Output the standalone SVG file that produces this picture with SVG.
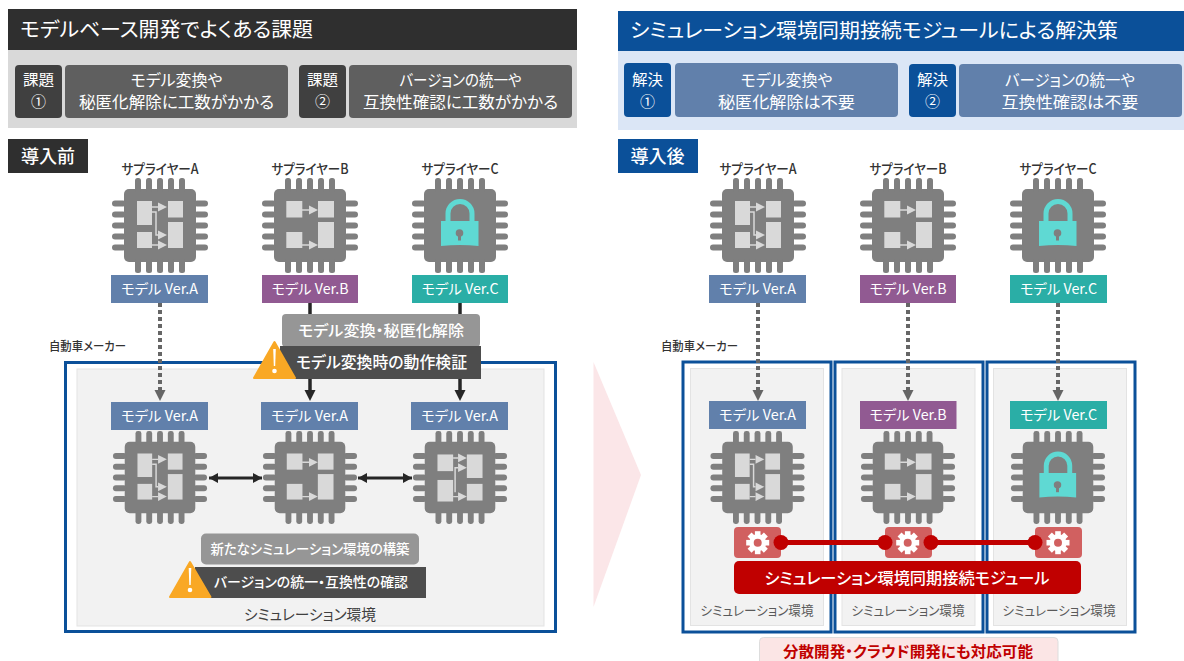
<svg xmlns="http://www.w3.org/2000/svg" width="1184" height="661" viewBox="0 0 1184 661">
<style>
text{font-family:"Noto Sans CJK JP","Noto Sans",sans-serif;text-anchor:middle;dominant-baseline:central;font-feature-settings:"palt";transform:translateY(-1.5px)}
.w{fill:#fff}.d{fill:#333}.m{font-weight:500}
.chip{fill:#7f7f7f}.in{fill:#d9d9d9}.ln{stroke:#d9d9d9;stroke-width:1.5;fill:none}
.blue{fill:#6180ab}.pur{fill:#915a92}.teal{fill:#2aaea6}
.frame{fill:#fff;stroke:#0b5099;stroke-width:3}.sim{fill:#f2f2f2;stroke:#e3e3e3;stroke-width:1}
.dot{stroke:#666;stroke-width:4;stroke-dasharray:4 3;fill:none}
.sol{stroke:#262626;stroke-width:3.5;fill:none}
.dbl{stroke:#262626;stroke-width:3;fill:none}
.warn{fill:#f9a825;stroke:#f9a825;stroke-width:2;stroke-linejoin:round}
.gearbox{fill:#d16060}
.redl{stroke:#c00000;stroke-width:5;fill:none}
</style>
<defs>
<marker id="ha" markerUnits="userSpaceOnUse" markerWidth="10" markerHeight="12" refX="9" refY="6" orient="auto-start-reverse"><path d="M0 1L9 6L0 11Z" fill="#262626"/></marker>
<g id="base">
<rect class="chip" x="-36" y="-36.5" width="72" height="73" rx="5"/>
<g class="chip">
<rect x="-25" y="-47.5" width="6" height="14" rx="2.5"/><rect x="-14" y="-47.5" width="6" height="14" rx="2.5"/><rect x="-3" y="-47.5" width="6" height="14" rx="2.5"/><rect x="8" y="-47.5" width="6" height="14" rx="2.5"/><rect x="19" y="-47.5" width="6" height="14" rx="2.5"/>
<rect x="-25" y="33.5" width="6" height="14" rx="2.5"/><rect x="-14" y="33.5" width="6" height="14" rx="2.5"/><rect x="-3" y="33.5" width="6" height="14" rx="2.5"/><rect x="8" y="33.5" width="6" height="14" rx="2.5"/><rect x="19" y="33.5" width="6" height="14" rx="2.5"/>
<rect x="-48" y="-25" width="14" height="6" rx="3"/><rect x="-48" y="-14" width="14" height="6" rx="3"/><rect x="-48" y="-3" width="14" height="6" rx="3"/><rect x="-48" y="8" width="14" height="6" rx="3"/><rect x="-48" y="19" width="14" height="6" rx="3"/>
<rect x="34" y="-25" width="14" height="6" rx="3"/><rect x="34" y="-14" width="14" height="6" rx="3"/><rect x="34" y="-3" width="14" height="6" rx="3"/><rect x="34" y="8" width="14" height="6" rx="3"/><rect x="34" y="19" width="14" height="6" rx="3"/>
</g>
</g>
<g id="chipA"><use href="#base"/>
<g class="in"><rect x="-23" y="-24.5" width="15" height="24"/><rect x="-23" y="6.5" width="15" height="16"/><rect x="8" y="-24.5" width="15" height="16.5"/><rect x="8" y="-3.5" width="15" height="26"/>
<path d="M-2 -23L7 -18.5L-2 -14Z"/><path d="M-2 5L7 9.5L-2 14Z"/><path d="M-2 15L7 19.5L-2 24Z"/></g>
<path class="ln" d="M-8 -18.5H-2M-8 -13.5H-4V9.5H-2M-8 19.5H-2"/></g>
<g id="chipB"><use href="#base"/>
<g class="in"><rect x="-23.7" y="-24.5" width="16" height="16.5"/><rect x="-23.7" y="6.5" width="16" height="16"/><rect x="8" y="-24.5" width="16" height="16.5"/><rect x="8" y="-3.5" width="16" height="26"/>
<path d="M-1 -20L8 -15.5L-1 -11Z"/><path d="M-1 15L8 19.5L-1 24Z"/></g>
<path class="ln" d="M-8 -15.5H-1M-8 19.5H-1"/></g>
<g id="chipD"><use href="#base"/>
<g class="in"><rect x="-23" y="-23.5" width="16" height="17"/><rect x="-23" y="2.5" width="16" height="22"/><rect x="7" y="-23.5" width="16" height="24"/><rect x="7" y="6.5" width="16" height="17"/>
<path d="M-2 -24.5L7 -20L-2 -15.5Z"/><path d="M-2 -14.5L7 -10L-2 -5.5Z"/><path d="M-2 15L7 19.5L-2 24Z"/></g>
<path class="ln" d="M-7 -20H-2M-2 -10H-5V15M-7 19.5H-2"/></g>
<g id="chipL"><use href="#base"/>
<path d="M-12 -4V-12a12 12 0 0 1 24 0V-4" fill="none" stroke="#5fd9d3" stroke-width="5"/>
<path d="M-19 -4.5H18.500V20.500Q0 18.500 -19 20.500Z" fill="#5fd9d3"/>
<circle cx="-0.5" cy="7.5" r="3.8" fill="#7f7f7f"/><rect x="-2" y="8" width="3" height="7" fill="#7f7f7f"/></g>
<g id="gear"><circle r="8.5" fill="#fff"/>
<g fill="#fff"><rect x="-2.8" y="-11.5" width="5.6" height="23"/><rect x="-2.8" y="-11.5" width="5.6" height="23" transform="rotate(45)"/><rect x="-2.8" y="-11.5" width="5.6" height="23" transform="rotate(90)"/><rect x="-2.8" y="-11.5" width="5.6" height="23" transform="rotate(135)"/></g>
<circle r="4" fill="#d16060"/></g>
<g id="ex"><path d="M-1.300 -20H1.300L0.700 -3H-0.700Z" fill="#fff"/><circle cy="2" r="2.300" fill="#fff"/></g>
</defs>
<rect width="1184" height="661" fill="#fff"/>

<g id="left-header">
<rect x="8" y="50" width="569" height="78" fill="#d9d9d9"/>
<rect x="8" y="9" width="569" height="41" fill="#2f2f2f"/>
<text class="w" x="166.500" y="30" font-size="20" textLength="293" lengthAdjust="spacingAndGlyphs">モデルベース開発でよくある課題</text>
</g>
<g id="issue1">
<rect x="15" y="65" width="47" height="53" rx="4" fill="#404040"/>
<text class="w" x="38.500" y="79.500" font-size="15" textLength="31" lengthAdjust="spacingAndGlyphs">課題</text><text class="w" x="38.500" y="101.500" font-size="15">①</text>
<rect x="65" y="65" width="223" height="53" rx="4" fill="#5f5f5f"/>
<text class="w" x="176.500" y="80" font-size="16" textLength="92" lengthAdjust="spacingAndGlyphs">モデル変換や</text>
<text class="w" x="176.500" y="102" font-size="16" textLength="195" lengthAdjust="spacingAndGlyphs">秘匿化解除に工数がかかる</text>
</g>
<g id="issue2">
<rect x="299" y="65" width="47" height="53" rx="4" fill="#404040"/>
<text class="w" x="322.500" y="79.500" font-size="15" textLength="31" lengthAdjust="spacingAndGlyphs">課題</text><text class="w" x="322.500" y="101.500" font-size="15">②</text>
<rect x="349" y="65" width="223" height="53" rx="4" fill="#5f5f5f"/>
<text class="w" x="460.500" y="80" font-size="16" textLength="122" lengthAdjust="spacingAndGlyphs">バージョンの統一や</text>
<text class="w" x="460.500" y="102" font-size="16" textLength="195" lengthAdjust="spacingAndGlyphs">互換性確認に工数がかかる</text>
</g>
<g id="before-tag"><rect x="8" y="139" width="80" height="34" fill="#2f2f2f"/><text class="w m" x="48" y="156" font-size="18">導入前</text></g>

<g id="right-header">
<rect x="618" y="51" width="566" height="79" fill="#dbe6f6"/>
<rect x="618" y="11" width="566" height="40" fill="#0b5099"/>
<text class="w" x="874" y="31" font-size="20" textLength="488" lengthAdjust="spacingAndGlyphs">シミュレーション環境同期接続モジュールによる解決策</text>
</g>
<g id="solution1">
<rect x="624" y="63" width="47" height="54" rx="4" fill="#0b5099"/>
<text class="w" x="647.500" y="79.500" font-size="15" textLength="31" lengthAdjust="spacingAndGlyphs">解決</text><text class="w" x="647.500" y="101.500" font-size="15">①</text>
<rect x="675" y="63" width="223" height="54" rx="4" fill="#6180ab"/>
<text class="w" x="786.500" y="80" font-size="16" textLength="92" lengthAdjust="spacingAndGlyphs">モデル変換や</text>
<text class="w" x="786.500" y="102" font-size="16" textLength="137" lengthAdjust="spacingAndGlyphs">秘匿化解除は不要</text>
</g>
<g id="solution2">
<rect x="909" y="64" width="47" height="53" rx="4" fill="#0b5099"/>
<text class="w" x="932.500" y="79.500" font-size="15" textLength="31" lengthAdjust="spacingAndGlyphs">解決</text><text class="w" x="932.500" y="101.500" font-size="15">②</text>
<rect x="959" y="64" width="223" height="53" rx="4" fill="#6180ab"/>
<text class="w" x="1070" y="80" font-size="16" textLength="130" lengthAdjust="spacingAndGlyphs">バージョンの統一や</text>
<text class="w" x="1070" y="102" font-size="16" textLength="137" lengthAdjust="spacingAndGlyphs">互換性確認は不要</text>
</g>
<g id="after-tag"><rect x="618" y="139" width="80" height="34" fill="#0b5099"/><text class="w m" x="657.500" y="156" font-size="18">導入後</text></g>

<g id="arrow-big"><path d="M593.500 362L641 475L593.500 607Z" fill="#fbe6e8"/></g>

<g id="maker-left">
<text class="d m" x="87.500" y="347" font-size="12" textLength="77" lengthAdjust="spacingAndGlyphs">自動車メーカー</text>
<rect class="frame" x="65.500" y="362.500" width="490" height="269"/>
<rect class="sim" x="77" y="369" width="467" height="257"/>
<text x="310" y="615" font-size="15" fill="#404040" textLength="132" lengthAdjust="spacingAndGlyphs">シミュレーション環境</text>
</g>
<g id="maker-right">
<text class="d m" x="699.500" y="347" font-size="12" textLength="77" lengthAdjust="spacingAndGlyphs">自動車メーカー</text>
<rect class="frame" x="683" y="362" width="148" height="270"/><rect class="sim" x="690.500" y="368.500" width="133" height="257"/>
<rect class="frame" x="835" y="362" width="148" height="270"/><rect class="sim" x="842" y="368.500" width="133" height="257"/>
<rect class="frame" x="987" y="362" width="148" height="270"/><rect class="sim" x="993.500" y="368.500" width="133" height="257"/>
<text x="757" y="611" font-size="13" fill="#595959" textLength="113" lengthAdjust="spacingAndGlyphs">シミュレーション環境</text>
<text x="908" y="611" font-size="13" fill="#595959" textLength="113" lengthAdjust="spacingAndGlyphs">シミュレーション環境</text>
<text x="1059" y="611" font-size="13" fill="#595959" textLength="113" lengthAdjust="spacingAndGlyphs">シミュレーション環境</text>
</g>

<g id="connectors">
<path class="dot" d="M160 303V390"/><path d="M154.500 390H165.500L160 401Z" fill="#666"/>
<path class="sol" d="M310 303V316"/><path class="sol" d="M460 303V316"/>
<path class="sol" d="M310 378V392"/><path d="M304.500 390H315.500L310 401Z" fill="#262626"/>
<path class="sol" d="M460 378V392"/><path d="M454.500 390H465.500L460 401Z" fill="#262626"/>
<path class="dbl" d="M209 478H262" marker-start="url(#ha)" marker-end="url(#ha)"/>
<path class="dbl" d="M358 478H412" marker-start="url(#ha)" marker-end="url(#ha)"/>
<path class="dot" d="M758 303V390"/><path d="M752.500 390H763.500L758 401Z" fill="#666"/>
<path class="dot" d="M908 303V390"/><path d="M902.500 390H913.500L908 401Z" fill="#666"/>
<path class="dot" d="M1058 303V390"/><path d="M1052.500 390H1063.500L1058 401Z" fill="#666"/>
</g>

<g id="supA"><text class="d m" x="160" y="169" font-size="14" textLength="77" lengthAdjust="spacingAndGlyphs">サプライヤーA</text><use href="#chipA" transform="translate(160 225.500)"/><rect class="blue" x="111" y="275" width="97" height="28"/><text class="w" x="159.500" y="289" font-size="14" textLength="77" lengthAdjust="spacingAndGlyphs">モデル Ver.A</text></g>
<g id="supB"><text class="d m" x="310" y="169" font-size="14" textLength="77" lengthAdjust="spacingAndGlyphs">サプライヤーB</text><use href="#chipB" transform="translate(310 225.500)"/><rect class="pur" x="262" y="275" width="96" height="28"/><text class="w" x="310" y="289" font-size="14" textLength="77" lengthAdjust="spacingAndGlyphs">モデル Ver.B</text></g>
<g id="supC"><text class="d m" x="460" y="169" font-size="14" textLength="77" lengthAdjust="spacingAndGlyphs">サプライヤーC</text><use href="#chipL" transform="translate(460 225.500)"/><rect class="teal" x="412" y="275" width="96" height="28"/><text class="w" x="460" y="289" font-size="14" textLength="77" lengthAdjust="spacingAndGlyphs">モデル Ver.C</text></g>

<g id="convert">
<rect x="282" y="314" width="198" height="33" rx="4" fill="#969696"/>
<text class="w m" x="381" y="330.500" font-size="15" textLength="166" lengthAdjust="spacingAndGlyphs">モデル変換・秘匿化解除</text>
<rect x="280" y="346" width="201" height="33" fill="#4d4d4d"/>
<text class="w m" x="381.500" y="362.500" font-size="16" textLength="171" lengthAdjust="spacingAndGlyphs">モデル変換時の動作検証</text>
<path class="warn" d="M274.500 342L295 378H254Z"/><use href="#ex" transform="translate(274.500 369)"/>
</g>

<g id="simA"><rect class="blue" x="111" y="402" width="97" height="28"/><text class="w" x="159.500" y="416" font-size="14" textLength="77" lengthAdjust="spacingAndGlyphs">モデル Ver.A</text><use href="#chipA" transform="translate(160 477.500) scale(.98)"/></g>
<g id="simB"><rect class="blue" x="261" y="402" width="97" height="28"/><text class="w" x="309.500" y="416" font-size="14" textLength="77" lengthAdjust="spacingAndGlyphs">モデル Ver.A</text><use href="#chipB" transform="translate(310 477.500) scale(.98)"/></g>
<g id="simC"><rect class="blue" x="411" y="402" width="97" height="28"/><text class="w" x="459.500" y="416" font-size="14" textLength="77" lengthAdjust="spacingAndGlyphs">モデル Ver.A</text><use href="#chipD" transform="translate(460 477.500) scale(.98)"/></g>

<g id="newenv">
<rect x="201" y="533.500" width="218" height="31" rx="5" fill="#969696"/>
<text class="w m" x="310" y="549" font-size="14" textLength="199" lengthAdjust="spacingAndGlyphs">新たなシミュレーション環境の構築</text>
<rect x="195" y="567" width="231" height="31" fill="#4d4d4d"/>
<text class="w m" x="311" y="582.500" font-size="14" textLength="194" lengthAdjust="spacingAndGlyphs">バージョンの統一・互換性の確認</text>
<path class="warn" d="M190 562L210.500 597H170Z"/><use href="#ex" transform="translate(190 588)"/>
</g>

<g id="supA2"><text class="d m" x="758" y="169" font-size="14" textLength="77" lengthAdjust="spacingAndGlyphs">サプライヤーA</text><use href="#chipA" transform="translate(758 225.500)"/><rect class="blue" x="709" y="275" width="97" height="28"/><text class="w" x="757.500" y="289" font-size="14" textLength="77" lengthAdjust="spacingAndGlyphs">モデル Ver.A</text></g>
<g id="supB2"><text class="d m" x="908" y="169" font-size="14" textLength="77" lengthAdjust="spacingAndGlyphs">サプライヤーB</text><use href="#chipB" transform="translate(908 225.500)"/><rect class="pur" x="860" y="275" width="96" height="28"/><text class="w" x="908" y="289" font-size="14" textLength="77" lengthAdjust="spacingAndGlyphs">モデル Ver.B</text></g>
<g id="supC2"><text class="d m" x="1058" y="169" font-size="14" textLength="77" lengthAdjust="spacingAndGlyphs">サプライヤーC</text><use href="#chipL" transform="translate(1058 225.500)"/><rect class="teal" x="1010" y="275" width="97" height="28"/><text class="w" x="1058.500" y="289" font-size="14" textLength="77" lengthAdjust="spacingAndGlyphs">モデル Ver.C</text></g>

<g id="simA2"><rect class="blue" x="709" y="401" width="97" height="28"/><text class="w" x="757.500" y="415" font-size="14" textLength="77" lengthAdjust="spacingAndGlyphs">モデル Ver.A</text><use href="#chipA" transform="translate(757.500 477.500) scale(.98)"/></g>
<g id="simB2"><rect class="pur" x="860" y="401" width="96.500" height="28"/><text class="w" x="908" y="415" font-size="14" textLength="77" lengthAdjust="spacingAndGlyphs">モデル Ver.B</text><use href="#chipB" transform="translate(908 477.500) scale(.98)"/></g>
<g id="simC2"><rect class="teal" x="1010" y="401" width="97" height="28"/><text class="w" x="1058.500" y="415" font-size="14" textLength="77" lengthAdjust="spacingAndGlyphs">モデル Ver.C</text><use href="#chipL" transform="translate(1058 477.500) scale(.98)"/></g>

<g id="gears">
<rect class="gearbox" x="734" y="527" width="47" height="31" rx="4"/><use href="#gear" transform="translate(757.700 542.700)"/>
<rect class="gearbox" x="885" y="527" width="47" height="31" rx="4"/><use href="#gear" transform="translate(907.700 542.700)"/>
<rect class="gearbox" x="1035" y="527" width="47" height="31" rx="4"/><use href="#gear" transform="translate(1058 542.700)"/>
</g>
<g id="sync-links">
<path class="redl" d="M781 542.500H885M931 542.500H1035"/>
<g fill="#c00000"><circle cx="781" cy="542.500" r="7.500"/><circle cx="885" cy="542.500" r="7.500"/><circle cx="931" cy="542.500" r="7.500"/><circle cx="1035" cy="542.500" r="7.500"/></g>
</g>
<g id="sync-module">
<rect x="734" y="561" width="347" height="33" rx="5" fill="#c00000"/>
<text class="w m" x="907" y="578" font-size="16" textLength="285" lengthAdjust="spacingAndGlyphs">シミュレーション環境同期接続モジュール</text>
</g>
<g id="note">
<rect x="759.500" y="637.500" width="298.500" height="30" rx="4" fill="#fbe5e5" stroke="#ddd"/>
<text x="908" y="652" font-size="15" font-weight="700" fill="#c00000" textLength="250" lengthAdjust="spacingAndGlyphs">分散開発・クラウド開発にも対応可能</text>
</g>
</svg>
